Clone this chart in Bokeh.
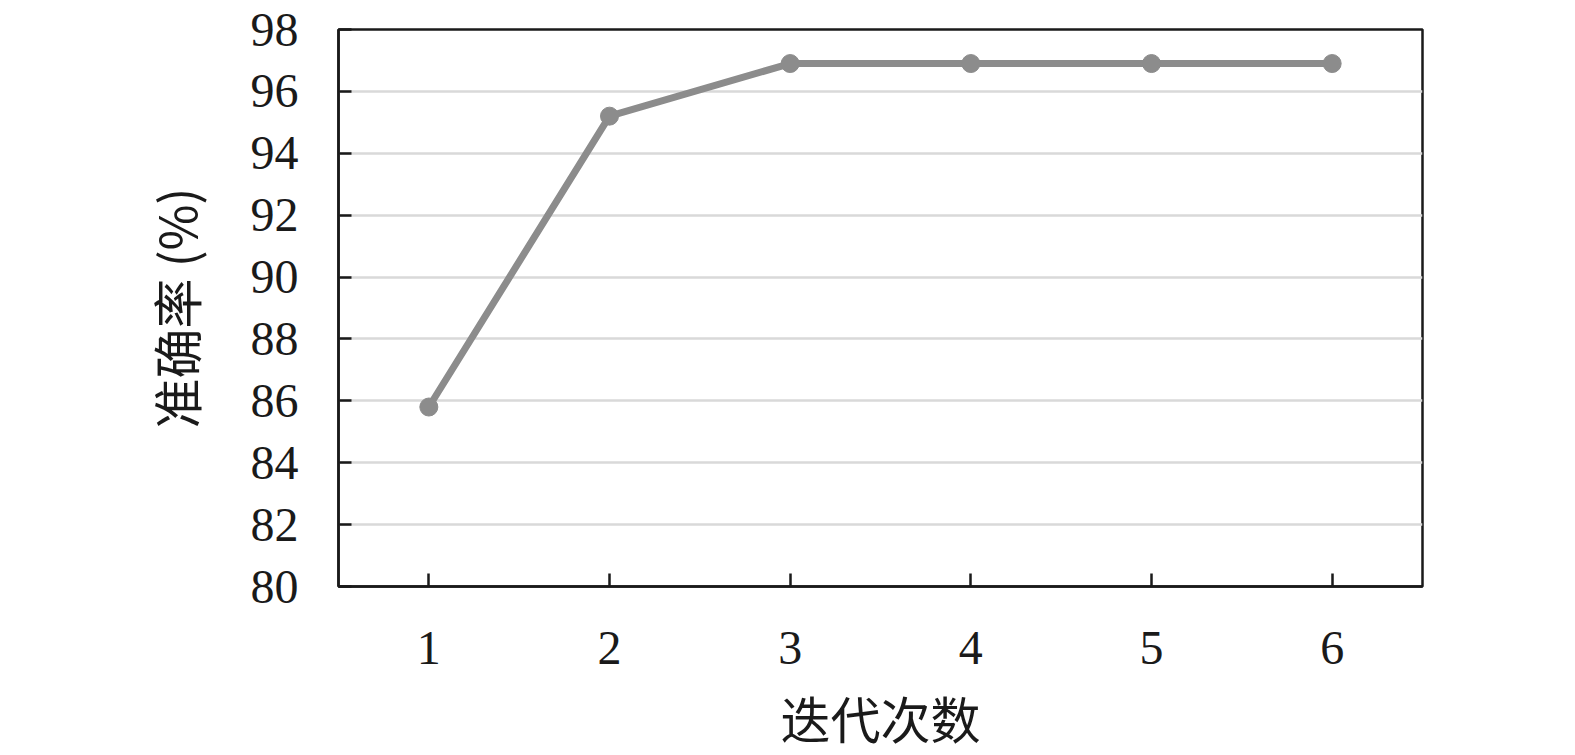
from bokeh.plotting import figure
from bokeh.models import FixedTicker, Range1d
from bokeh.embed import file_html
from bokeh.resources import INLINE

iterations = [1, 2, 3, 4, 5, 6]
accuracy = [85.8, 95.2, 96.9, 96.9, 96.9, 96.9]
y_ticks = [80, 82, 84, 86, 88, 90, 92, 94, 96, 98]
x_title = "迭代次数"
y_title = "准确率 (%)"

p = figure(width=1559, height=755, output_backend="svg", toolbar_location=None,
           x_range=Range1d(0.5, 6.5), y_range=Range1d(80, 98),
           min_border_left=338, min_border_right=137, min_border_top=29, min_border_bottom=168)

p.line(iterations, accuracy, line_color="#8c8c8c", line_width=7)
p.scatter(iterations, accuracy, size=18, fill_color="#8c8c8c", line_color="#8c8c8c")

p.xaxis.ticker = FixedTicker(ticks=iterations)
p.yaxis.ticker = FixedTicker(ticks=y_ticks)

for ax in (p.xaxis, p.yaxis):
    ax.axis_line_color = "#1a1a1a"
    ax.axis_line_width = 2.5
    ax.major_tick_line_color = "#1a1a1a"
    ax.major_tick_line_width = 2.5
    ax.major_tick_in = 13
    ax.major_tick_out = 0
    ax.minor_tick_line_color = None
    ax.major_label_text_font = "Liberation Serif"
    ax.major_label_text_font_size = "48px"
    ax.major_label_text_color = "#1a1a1a"
    ax.axis_label_text_font = "Noto Sans CJK SC"
    ax.axis_label_text_font_size = "50px"
    ax.axis_label_text_font_style = "normal"
    ax.axis_label_text_color = "#1a1a1a"

p.xaxis.axis_label = x_title
p.yaxis.axis_label = y_title
p.yaxis.major_label_standoff = 40
p.xaxis.major_label_standoff = 45
p.yaxis.axis_label_standoff = 37
p.xaxis.axis_label_standoff = 14

p.xgrid.grid_line_color = None
p.ygrid.grid_line_color = "#d9d9d9"
p.ygrid.grid_line_width = 2.5

p.outline_line_color = "#1a1a1a"
p.outline_line_width = 2.5
p.outline_line_alpha = 1.0

open("out.html", "w").write(file_html(p, INLINE))
